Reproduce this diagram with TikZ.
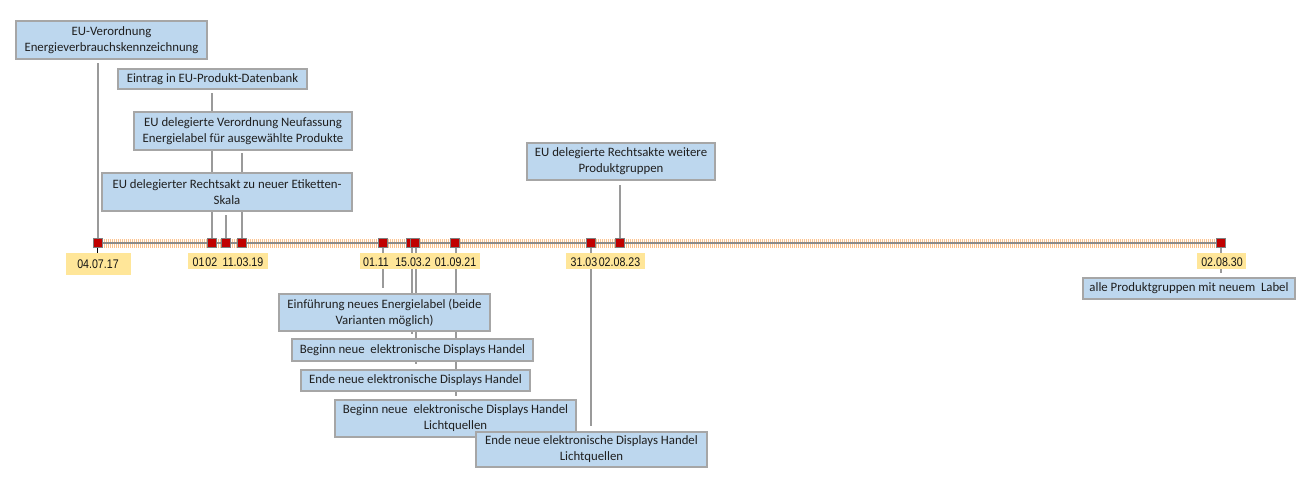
\documentclass[tikz,border=0pt]{standalone}
\usepackage{fontspec}
\setmainfont{Carlito}
\newfontfamily\datefont[FakeStretch=0.85]{Liberation Sans}
\usetikzlibrary{backgrounds}
\definecolor{boxfill}{HTML}{BDD7EE}
\definecolor{boxborder}{HTML}{A6A6A6}
\definecolor{dateyellow}{HTML}{FFE699}
\definecolor{markerred}{HTML}{C00000}
\definecolor{markerborder}{HTML}{7F7F7F}
\definecolor{conngray}{HTML}{9A9A9A}
\definecolor{axisgray}{HTML}{8A8A8A}
\definecolor{tickorange}{HTML}{FDC48F}
\begin{document}
\begin{tikzpicture}[x=1pt,y=-1pt,
 box/.style={draw=boxborder, line width=1.2pt, fill=boxfill, inner sep=0pt, align=center,
   font=\fontsize{12.8}{16}\selectfont, text=black!88},
 datebg/.style={fill=dateyellow, inner sep=0pt, draw=none},
 datetxt/.style={font=\datefont\fontsize{12.5}{14}\selectfont, inner sep=0pt, anchor=base, text=black!92},
 marker/.style={draw=markerborder, fill=markerred, line width=1pt, minimum size=9pt, inner sep=0pt},
 conn/.style={draw=conngray, line width=2pt},
]
\useasboundingbox (0,0) rectangle (1311,483);
% boxes
\node[box, minimum width=191pt, minimum height=38pt] (b1) at (111.5,40) {EU-Verordnung\\Energieverbrauchskennzeichnung};
\node[box, minimum width=189pt, minimum height=20pt] (b2) at (212.5,79) {Eintrag in EU-Produkt-Datenbank};
\node[box, minimum width=218pt, minimum height=38pt] (b3) at (243,131) {EU delegierte Verordnung Neufassung\\Energielabel für ausgewählte Produkte};
\node[box, minimum width=250pt, minimum height=38pt] (b4) at (227,192) {EU delegierter Rechtsakt zu neuer Etiketten-\\Skala};
\node[box, minimum width=188pt, minimum height=37pt] (b5) at (621,161.5) {EU delegierte Rechtsakte weitere\\Produktgruppen};
\node[box, minimum width=211pt, minimum height=37pt] (b6) at (384.5,312.5) {Einführung neues Energielabel (beide\\Varianten möglich)};
\node[box, minimum width=241pt, minimum height=22pt] (b7) at (412.5,350) {Beginn neue\ \ elektronische Displays Handel};
\node[box, minimum width=229pt, minimum height=21pt] (b8) at (415.5,380.5) {Ende neue elektronische Displays Handel};
\node[box, minimum width=241pt, minimum height=37pt] (b9) at (455.5,418.5) {Beginn neue\ \ elektronische Displays Handel\\Lichtquellen};
\node[box, minimum width=231pt, minimum height=35pt] (b10) at (591.5,449.5) {Ende neue elektronische Displays Handel\\Lichtquellen};
\node[box, minimum width=212pt, minimum height=21pt] (b11) at (1189,288.5) {alle Produktgruppen mit neuem\ \ Label};
% date label backgrounds
\node[datebg, minimum width=65pt, minimum height=22pt] (d1) at (98.5,264) {};
\node[datebg, minimum width=80pt, minimum height=16pt] (d2) at (228,261) {};
\node[datebg, minimum width=120pt, minimum height=16pt] (d3) at (420,261) {};
\node[datebg, minimum width=79pt, minimum height=16pt] (d4) at (605.5,261) {};
\node[datebg, minimum width=49pt, minimum height=16pt] (d5) at (1221.5,261) {};
% date texts
\node[datetxt] (t1) at (98,268) {04.07.17};
\node[datetxt] (t2) at (198.5,266.7) {01};
\node[datetxt] (t3) at (211.3,266.7) {02};
\node[datetxt] (t4) at (243,266.7) {11.03.19};
\node[datetxt] (t5) at (376,266.7) {01.11};
\node[datetxt] (t6) at (413,266.7) {15.03.2};
\node[datetxt] (t7) at (455.5,266.7) {01.09.21};
\node[datetxt] (t8) at (584,266.7) {31.03};
\node[datetxt] (t9) at (619.5,266.7) {02.08.23};
\node[datetxt] (t10) at (1222,266.7) {02.08.30};
% markers
\node[marker] (m1) at (97.7,243.3) {};
\node[marker] (m2) at (211.7,243.3) {};
\node[marker] (m3) at (225.7,243.3) {};
\node[marker] (m4) at (242.3,243.3) {};
\node[marker] (m5) at (383.3,243.3) {};
\node[marker] (m6) at (410.8,243.3) {};
\node[marker] (m7) at (414.5,243.3) {};
\node[marker] (m8) at (454.8,243.3) {};
\node[marker] (m9) at (590.5,243.3) {};
\node[marker] (m10) at (619.5,243.3) {};
\node[marker] (m11) at (1220.5,243.3) {};
\begin{scope}[on background layer]
  % axis
  \draw[tickorange, line width=9.5pt, dash pattern=on 1pt off 1pt] (m1.center) -- (m11.center);
  \draw[axisgray, line width=2.3pt] (m1.center) -- (m11.center);
  % connectors up
  \draw[conn, shorten >=3pt] (m1.center) -- (m1 |- b1.south);
  \draw[conn, shorten >=3pt] (m2.center) -- (m2 |- b2.south);
  \draw[conn, shorten >=3pt] (m3.center) -- (m3 |- b4.south);
  \draw[conn, shorten >=2.5pt] (m4.center) -- (m4 |- b3.south);
  \draw[conn, shorten >=4pt] (m10.center) -- (m10 |- b5.south);
  % connectors down
  \draw[black, line width=1pt] (m1.center) -- (m1 |- d1.north);
  \draw[conn, shorten >=5pt] (m5.center) -- (m5 |- b6.north);
  \draw[conn, shorten >=4pt] ([xshift=1.5pt]m6.center) -- ([xshift=1.5pt]m6 |- b7.north);
  \draw[conn, shorten >=5pt] ([xshift=1pt]m7.center) -- ([xshift=1pt]m7 |- b8.north);
  \draw[conn, shorten >=3pt] ([xshift=1pt]m8.center) -- ([xshift=1pt]m8 |- b9.north);
  \draw[conn, shorten >=5.5pt] (m9.center) -- (m9 |- b10.north);
  \draw[conn, shorten >=4pt] (m11.center) -- (m11 |- b11.north);
\end{scope}
\end{tikzpicture}
\end{document}
